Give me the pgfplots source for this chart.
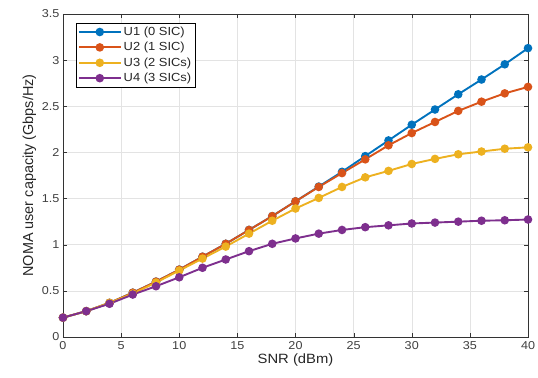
\documentclass[border=0pt]{standalone}
\usepackage{pgfplots}
\pgfplotsset{compat=1.18}
\usepackage{fontspec}
\setmainfont{Liberation Sans}
\newfontfamily\widefont[FakeStretch=1.1]{Liberation Sans}
\definecolor{c1}{rgb}{0,0.447,0.741}
\definecolor{c2}{rgb}{0.85,0.325,0.098}
\definecolor{c3}{rgb}{0.929,0.694,0.125}
\definecolor{c4}{rgb}{0.494,0.184,0.556}
\begin{document}
\begin{tikzpicture}[x=1bp,y=1bp]
\path[use as bounding box] (-63,-40) rectangle (475,324+13);
\begin{axis}[
  at={(0,0)}, anchor=south west,
  scale only axis, width=465bp, height=323bp,
  xmin=0, xmax=40, ymin=0, ymax=3.5,
  xtick={0,5,...,40}, ytick={0,0.5,...,3.5},
  yticklabels={0,0.5,1,1.5,2,2.5,3,3.5},
  grid=major, major grid style={gray!22, line width=0.5pt},
  axis line style={black!80, line width=0.6pt},
  tick style={black!80}, tick align=inside,
  xtick pos=both, ytick pos=both,
  tick label style={font=\widefont\fontsize{11.5}{13}\selectfont, text=black!75},
  label style={text=black!85},
  /pgf/number format/assume math mode=true,
  xlabel={SNR (dBm)}, ylabel={NOMA user capacity (Gbps/Hz)},
  xlabel style={font=\widefont\fontsize{13.5}{15}\selectfont, yshift=3pt},
  ylabel style={font=\fontsize{14.5}{16}\selectfont, yshift=-1pt},
  xticklabel style={yshift=-1pt},
  legend style={draw=black, line width=0.6pt,
    font=\widefont\fontsize{11.8}{13}\selectfont, row sep=1.4pt, inner sep=2pt,
    nodes={inner sep=2pt}, text=black!85},
  legend style={at={(0.027,0.973)}, anchor=north west},
  legend cell align=left,
  legend image code/.code={\draw[#1, mark repeat=2, mark phase=2] plot coordinates {(0bp,0bp) (21bp,0bp) (42bp,0bp)};},
  every axis plot/.append style={line width=1.9pt, mark=*, mark size=3.3pt},
]
\addplot[c1, mark options={fill=c1}] coordinates {(0,0.21)(2,0.28)(4,0.37)(6,0.48)(8,0.60)(10,0.73)(12,0.87)(14,1.01)(16,1.16)(18,1.31)(20,1.47)(22,1.63)(24,1.79)(26,1.96)(28,2.13)(30,2.30)(32,2.465)(34,2.63)(36,2.79)(38,2.955)(40,3.13)};
\addplot[c2, mark options={fill=c2}] coordinates {(0,0.21)(2,0.28)(4,0.37)(6,0.48)(8,0.60)(10,0.73)(12,0.87)(14,1.01)(16,1.16)(18,1.31)(20,1.47)(22,1.626)(24,1.776)(26,1.925)(28,2.077)(30,2.21)(32,2.33)(34,2.45)(36,2.55)(38,2.64)(40,2.71)};
\addplot[c3, mark options={fill=c3}] coordinates {(0,0.21)(2,0.28)(4,0.37)(6,0.47)(8,0.59)(10,0.72)(12,0.85)(14,0.98)(16,1.12)(18,1.26)(20,1.392)(22,1.507)(24,1.626)(26,1.73)(28,1.80)(30,1.875)(32,1.93)(34,1.98)(36,2.01)(38,2.04)(40,2.055)};
\addplot[c4, mark options={fill=c4}] coordinates {(0,0.21)(2,0.28)(4,0.36)(6,0.46)(8,0.55)(10,0.647)(12,0.75)(14,0.84)(16,0.93)(18,1.01)(20,1.068)(22,1.12)(24,1.16)(26,1.19)(28,1.21)(30,1.23)(32,1.24)(34,1.25)(36,1.26)(38,1.265)(40,1.273)};
\legend{U1 (0 SIC), U2 (1 SIC), U3 (2 SICs), U4 (3 SICs)}
\end{axis}
\end{tikzpicture}
\end{document}
